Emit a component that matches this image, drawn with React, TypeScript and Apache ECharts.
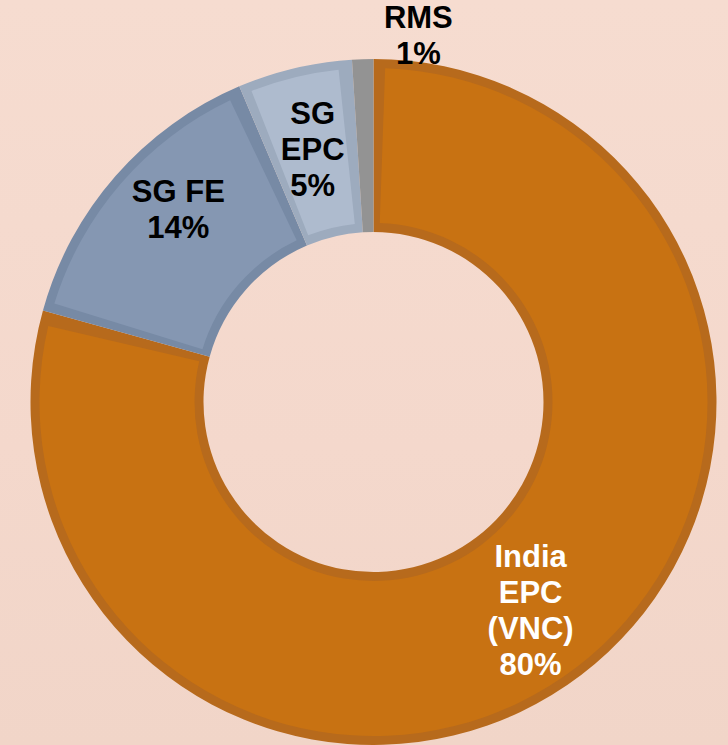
import React, { useEffect, useRef } from 'react';
import * as echarts from 'echarts';

const categories = ['India\nEPC\n(VNC)', 'SG FE', 'SG\nEPC', 'RMS'];
const shares = [79.3, 14.3, 5.4, 1.0];
const shareLabels = ['80%', '14%', '5%', '1%'];

const fillColors = ['#c87212', '#8597b2', '#aebbce', '#9a9a9a'];
const edgeColors = ['#b76a1c', '#778aa5', '#9dabbe', '#939393'];
const labelColors = ['#ffffff', '#000000', '#000000', '#000000'];
const labelOffsets: number[][] = [[0, 2], [0, -22], [-1, 0], [53, -107]];

export default function App() {
  const ref = useRef<HTMLDivElement>(null);
  useEffect(() => {
    if (!ref.current) return;
    const chart = echarts.init(ref.current, undefined, { renderer: 'svg' });
    const center = [373.5, 402];
    chart.setOption({
      animation: false,
      backgroundColor: 'transparent',
      series: [
        {
          type: 'pie',
          center,
          radius: [170, 343],
          startAngle: 90,
          clockwise: true,
          avoidLabelOverlap: false,
          emphasis: { disabled: true },
          labelLine: { show: false },
          data: categories.map((name, i) => ({
            name,
            value: shares[i],
            itemStyle: { color: edgeColors[i] },
            label: {
              show: true,
              position: 'inside',
              formatter: name + '\n' + shareLabels[i],
              color: labelColors[i],
              fontFamily: 'Liberation Sans, Arial, sans-serif',
              fontWeight: 'bold',
              fontSize: 31,
              lineHeight: 36,
              align: 'center',
              overflow: 'none',
              offset: labelOffsets[i],
            },
          })),
        },
        {
          type: 'pie',
          center,
          radius: [179, 334],
          startAngle: 90,
          clockwise: true,
          padAngle: 4,
          silent: true,
          emphasis: { disabled: true },
          label: { show: false },
          labelLine: { show: false },
          data: categories.map((name, i) => ({
            name,
            value: shares[i],
            itemStyle: { color: fillColors[i] },
          })),
        },
      ],
    });
    return () => chart.dispose();
  }, []);
  return (
    <div
      style={{
        position: 'fixed',
        left: 0,
        top: 0,
        width: 728,
        height: 745,
        background: 'linear-gradient(180deg, #f6dcd0 0%, #f4d8cc 60%, #f1d5c8 100%)',
      }}
    >
      <div ref={ref} style={{ width: 728, height: 745 }} />
    </div>
  );
}
